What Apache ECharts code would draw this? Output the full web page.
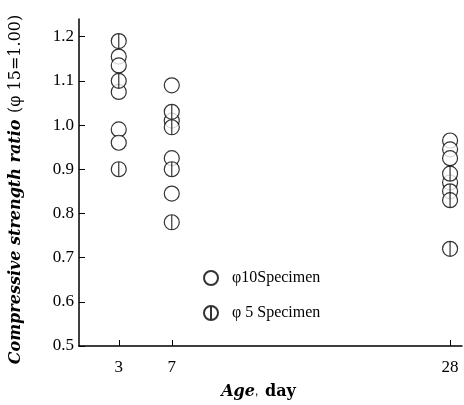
<!DOCTYPE html>
<html>
<head>
<meta charset="utf-8">
<script src="https://cdn.jsdelivr.net/npm/echarts@6/dist/echarts.min.js"></script>
<style>
  html, body { margin: 0; padding: 0; background: #fff; }
  #chart { width: 464px; height: 405px; }
</style>
</head>
<body>
<div id="chart"></div>
<script>
// 龄期 (day) 与强度比
const xTicks = [3, 7, 28];
const yTicks = [0.5, 0.6, 0.7, 0.8, 0.9, 1.0, 1.1, 1.2];

const phi10Days = [3, 3, 3, 3, 3, 7, 7, 7, 7, 28, 28, 28, 28];
const phi10Vals = [1.155, 1.135, 1.075, 0.99, 0.96, 1.09, 1.01, 0.925, 0.845, 0.965, 0.945, 0.925, 0.87];

const phi5Days = [3, 3, 3, 7, 7, 7, 7, 28, 28, 28, 28];
const phi5Vals = [1.19, 1.10, 0.90, 1.03, 0.995, 0.90, 0.78, 0.89, 0.85, 0.83, 0.72];

const font = 'Liberation Serif';
const wide = 'DejaVu Serif';
const crossedCircle = 'path://M0,-10A10,10,0,1,1,0,10A10,10,0,1,1,0,-10ZM0,-10L0,10';

const chart = echarts.init(document.getElementById('chart'));

chart.setOption({
    animation: false,
    backgroundColor: '#fff',
    grid: { left: 79, right: 2, top: 19, bottom: 58 },
    legend: {
        orient: 'vertical',
        left: 198,
        top: 265,
        itemGap: 19,
        itemWidth: 14,
        itemHeight: 14,
        textStyle: { fontFamily: font, fontSize: 16, color: '#000', padding: [0, 0, 0, 9] },
        data: ['φ10Specimen', 'φ 5 Specimen']
    },
    xAxis: {
        type: 'value',
        min: 0,
        max: 28.9,
        name: '{a|Age},  {b|day}',
        nameLocation: 'middle',
        nameGap: 38,
        nameTextStyle: {
            padding: [0, 24, 0, 0],
            rich: {
                a: { fontFamily: wide, fontSize: 16, fontStyle: 'italic', fontWeight: 'bold', color: '#000' },
                b: { fontFamily: wide, fontSize: 16, fontWeight: 'bold', color: '#000' }
            }
        },
        axisLine: { lineStyle: { color: '#000', width: 1.5 } },
        axisTick: { inside: true, length: 6, customValues: xTicks, lineStyle: { color: '#000' } },
        axisLabel: { customValues: xTicks, margin: 13, fontFamily: font, fontSize: 17, color: '#000' },
        splitLine: { show: false }
    },
    yAxis: {
        type: 'value',
        min: 0.5,
        max: 1.24,
        name: '{a|Compressive strength ratio}  {b|(φ 15=1.00)}',
        nameLocation: 'middle',
        nameRotate: 90,
        nameGap: 55,
        nameTextStyle: {
            padding: [0, 14, 0, 0],
            rich: {
                a: { fontFamily: wide, fontSize: 16, fontStyle: 'italic', fontWeight: 'bold', color: '#000' },
                b: { fontFamily: wide, fontSize: 16, color: '#000' }
            }
        },
        axisLine: { lineStyle: { color: '#000', width: 1.5 } },
        axisTick: { inside: true, length: 6, customValues: yTicks, lineStyle: { color: '#000' } },
        axisLabel: {
            customValues: yTicks,
            margin: 5,
            fontFamily: font,
            fontSize: 17,
            color: '#000',
            formatter: v => v.toFixed(1)
        },
        splitLine: { show: false }
    },
    series: [
        {
            name: 'φ10Specimen',
            type: 'scatter',
            symbol: 'circle',
            symbolSize: 15,
            itemStyle: { color: '#fff', borderColor: '#000', borderWidth: 1.2 },
            data: phi10Days.map((d, i) => [d, phi10Vals[i]])
        },
        {
            name: 'φ 5 Specimen',
            type: 'scatter',
            symbol: crossedCircle,
            symbolSize: 15,
            itemStyle: { color: '#fff', borderColor: '#000', borderWidth: 1.2 },
            data: phi5Days.map((d, i) => [d, phi5Vals[i]])
        }
    ]
});
</script>
</body>
</html>
